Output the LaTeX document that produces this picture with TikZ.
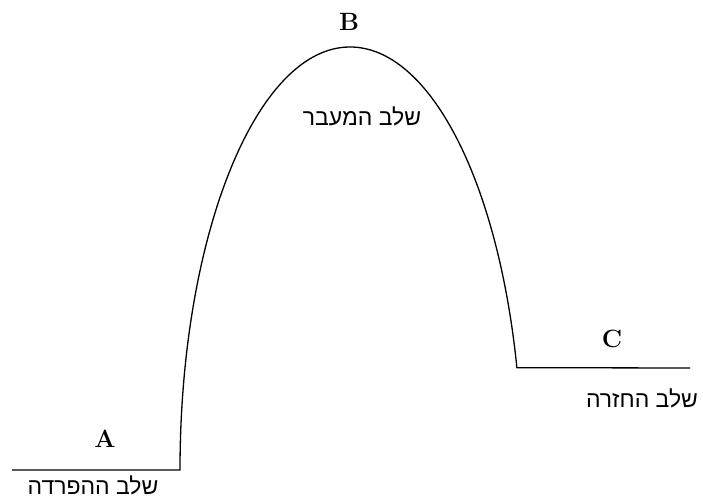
\documentclass[tikz,border=0pt]{standalone}
\usepackage{fontspec}
\newfontfamily\hebfont[Script=Hebrew]{Liberation Sans}
\TeXXeTstate=1
\tikzset{
  letterlbl/.style={font=\fontsize{25}{25}\selectfont\bfseries, inner sep=0pt, anchor=center},
  heblbl/.style={font=\hebfont\fontsize{23}{23}\selectfont, inner sep=0pt, anchor=center},
  curveline/.style={line width=1.3pt, line join=miter}
}
\begin{document}
\begin{tikzpicture}[x=1pt,y=1pt]
\useasboundingbox (0,0) rectangle (703,500);
\draw[curveline] (12,30) -- (180,30)
  arc[start angle=180, end angle=90, x radius=170, y radius=423]
  arc[start angle=90, end angle=14, x radius=172, y radius=423]
  -- (690,132);
\node[letterlbl] (A) at (105,61) {A};
\node[letterlbl] (B) at (349,478) {B};
\node[letterlbl] (C) at (612,161) {C};
\node[heblbl, anchor=south] (hA) at (93,5) {\beginR שלב ההפרדה\endR};
\node[heblbl] (hB) at (362,384) {\beginR שלב המעבר\endR};
\node[heblbl] (hC) at (642,102) {\beginR שלב החזרה\endR};
\end{tikzpicture}
\end{document}
